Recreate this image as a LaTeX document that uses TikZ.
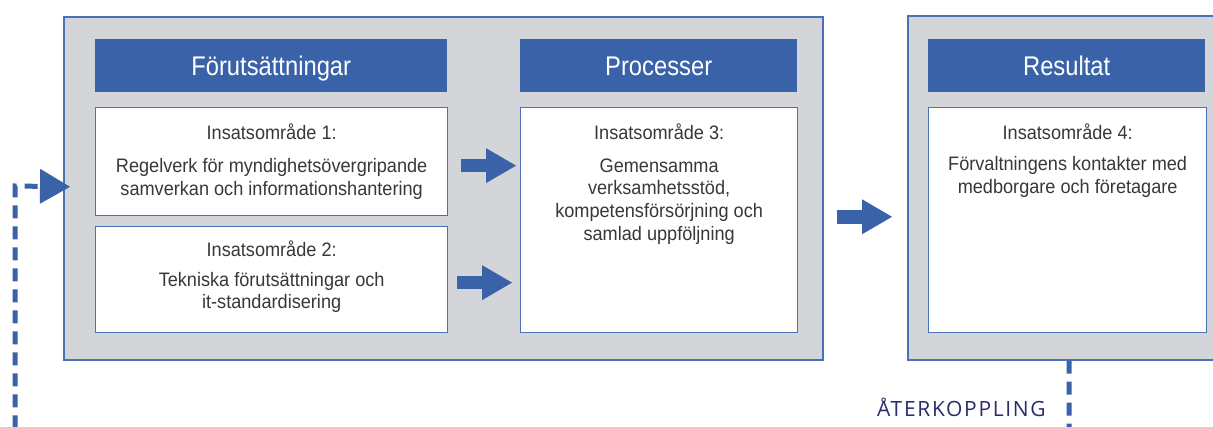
\documentclass[tikz,border=0pt]{standalone}
\usepackage{fontspec}
\setmainfont{Liberation Sans}
\newfontfamily\bodyfont[FakeStretch=0.93]{Liberation Sans}
\newfontfamily\headfont[FakeStretch=0.88]{Liberation Sans}
\newfontfamily\fbfont[LetterSpace=8]{Open Sans}
\usetikzlibrary{arrows.meta,calc}
\definecolor{panelgray}{HTML}{D4D5D8}
\definecolor{hdrblue}{HTML}{3A62A9}
\definecolor{edgeblue}{HTML}{4A70B5}
\definecolor{txtgray}{HTML}{383838}
\definecolor{navy}{HTML}{2C2B6B}
\newcommand\tstrut{\rule{0pt}{15pt}}
\begin{document}
\begin{tikzpicture}[x=1pt,y=-1pt,
  panel/.style={draw=edgeblue, line width=1.6pt, fill=panelgray, rectangle, anchor=north west, inner sep=0pt},
  header/.style={fill=hdrblue, rectangle, anchor=north west, inner sep=0pt, minimum height=53pt,
    text=white, font=\headfont\fontsize{27}{32}\selectfont, text height=19pt, text depth=0pt},
  ibox/.style={draw=edgeblue, line width=1.3pt, fill=white, rectangle, anchor=north west, inner sep=0pt},
  lbl/.style={anchor=north, inner sep=0pt, align=center, text=txtgray,
    font=\bodyfont\fontsize{19.5}{22.7}\selectfont},
  blockarrow/.style={draw=hdrblue, line width=13.5pt,
    -{Triangle[length=30pt,width=35pt,line width=0pt]}},
  feedback/.style={draw=hdrblue, line width=5pt, dash pattern=on 13pt off 8pt,
    -{Triangle[length=30pt,width=35pt,line width=0pt]}},
  fblabel/.style={anchor=base west, inner sep=0pt, text=navy, font=\fbfont\fontsize{21}{24}\selectfont}
]
\clip (0,0) rectangle (1213,427);
\fill[white] (0,0) rectangle (1213,427);

% panels
\node[panel, minimum width=759pt, minimum height=343pt] (p1) at (63,16) {};
\node[panel, minimum width=330pt, minimum height=344pt] (p2) at (907,15) {};

% headers
\node[header, minimum width=352pt] (h1) at (95,39) {Förutsättningar};
\node[header, minimum width=277pt] (h2) at (520,39) {Processer};
\node[header, minimum width=277pt] (h3) at (928,39) {Resultat};

% boxes
\node[ibox, minimum width=352pt, minimum height=108pt] (b1) at (95,107) {};
\node[ibox, minimum width=352pt, minimum height=106pt] (b2) at (95,226) {};
\node[ibox, minimum width=277pt, minimum height=225pt] (b3) at (520,107) {};
\node[ibox, minimum width=278pt, minimum height=225pt] (b4) at (928,107) {};

% texts
\node[lbl] (t1a) at ($(b1.north)+(0,17)$) {\tstrut Insatsområde 1:};
\node[lbl] (t1b) at ($(b1.north)+(0,50.5)$) {\tstrut Regelverk för myndighetsövergripande\\samverkan och informationshantering};
\node[lbl] (t2a) at ($(b2.north)+(0,15)$) {\tstrut Insatsområde 2:};
\node[lbl] (t2b) at ($(b2.north)+(0,45)$) {\tstrut Tekniska förutsättningar och\\it-standardisering};
\node[lbl] (t3a) at ($(b3.north)+(0,17)$) {\tstrut Insatsområde 3:};
\node[lbl] (t3b) at ($(b3.north)+(0,50)$) {\tstrut Gemensamma\\verksamhetsstöd,\\kompetensförsörjning och\\samlad uppföljning};
\node[lbl] (t4a) at ($(b4.north)+(0,17)$) {\tstrut Insatsområde 4:};
\node[lbl] (t4b) at ($(b4.north)+(0,48.5)$) {\tstrut Förvaltningens kontakter med\\medborgare och företagare};

% block arrows
\draw[blockarrow] ($(b1.east)+(13,4)$) -- ($(b3.west |- b1.east)+(-4,4)$);
\draw[blockarrow] ($(b2.east)+(9,3)$) -- ($(b3.west |- b2.east)+(-8,3)$);
\draw[blockarrow] ($(p1.east)+(13,28.5)$) -- ($(p2.west |- p1.east)+(-15,28.5)$);

% feedback loop
\coordinate (fbs) at ($(p2.south west)+(162,0)$);
\coordinate (fbe) at ($(p1.west)+(7,-1.5)$);
\draw[feedback] (fbs) -- (fbs |- 0,445) -- (15,445) -- (15,186) -- (fbe);
\node[fblabel] (fbl) at (877,417) {ÅTERKOPPLING};
\end{tikzpicture}
\end{document}
